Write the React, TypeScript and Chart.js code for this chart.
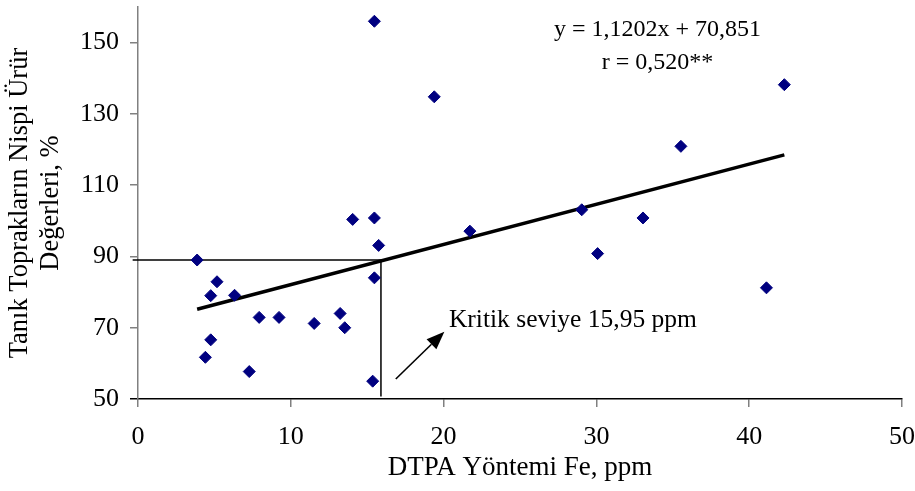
import React, { useEffect, useRef } from 'react';
import { Chart, registerables } from 'chart.js';

Chart.register(...registerables);

// ---- data ----
const feValues = [15.47, 19.39, 14.05, 15.47, 15.75, 42.3, 35.53, 29.04, 33.05, 21.72, 30.08, 41.13, 3.87, 15.47, 5.17, 4.76, 6.32, 7.93, 9.23, 11.53, 13.23, 13.53, 4.76, 4.41, 7.28, 15.36];
const yieldValues = [156.0, 134.8, 100.4, 100.8, 93.1, 138.2, 120.9, 103.1, 100.8, 97.1, 90.8, 81.2, 89.0, 84.0, 82.9, 79.0, 79.1, 72.9, 72.9, 71.2, 74.0, 70.0, 66.6, 61.7, 57.7, 55.0];
const trendX = [3.87, 42.3];
const trendY = [75.2, 118.5];
const criticalX = [-0.35, 15.9, 15.9];
const criticalY = [89, 89, 50.7];
const xTicks = [0, 10, 20, 30, 40, 50];
const yTicks = [50, 70, 90, 110, 130, 150];
const equationLines = ['y = 1,1202x + 70,851', 'r = 0,520**'];
const criticalLabel = 'Kritik seviye 15,95 ppm';
const xTitle = 'DTPA Yöntemi Fe, ppm';
const yTitle = ['Tanık Toprakların Nispi Ürür', 'Değerleri, %'];

// annotation anchors (data coordinates)
const equationAnchor = { x: 34.0, y: [151.9, 142.6] };
const labelAnchor = { x: 20.35, y: 70.3 };
const arrowFrom = { x: 16.87, y: 55.6 };
const arrowTo = { x: 20.05, y: 68.9 };

const FONT = '"Liberation Serif", "Times New Roman", serif';

const annotationPlugin = {
  id: 'annotations',
  afterDatasetsDraw(chart: any) {
    const { ctx, scales } = chart;
    const xs = scales.x;
    const ys = scales.y;
    ctx.save();
    ctx.fillStyle = '#000';
    ctx.strokeStyle = '#000';
    ctx.font = `24px ${FONT}`;
    ctx.textBaseline = 'alphabetic';
    ctx.textAlign = 'center';
    equationLines.forEach((t, i) => {
      ctx.fillText(t, xs.getPixelForValue(equationAnchor.x), ys.getPixelForValue(equationAnchor.y[i]));
    });
    ctx.font = `25.5px ${FONT}`;
    ctx.textAlign = 'left';
    ctx.fillText(criticalLabel, xs.getPixelForValue(labelAnchor.x), ys.getPixelForValue(labelAnchor.y));

    // arrow
    const x1 = xs.getPixelForValue(arrowFrom.x);
    const y1 = ys.getPixelForValue(arrowFrom.y);
    const x2 = xs.getPixelForValue(arrowTo.x);
    const y2 = ys.getPixelForValue(arrowTo.y);
    const ang = Math.atan2(y2 - y1, x2 - x1);
    const headLen = 18;
    const headW = 7;
    const bx = x2 - headLen * Math.cos(ang);
    const by = y2 - headLen * Math.sin(ang);
    ctx.lineWidth = 1.6;
    ctx.beginPath();
    ctx.moveTo(x1, y1);
    ctx.lineTo(bx, by);
    ctx.stroke();
    ctx.beginPath();
    ctx.moveTo(x2, y2);
    ctx.lineTo(bx + headW * Math.sin(ang), by - headW * Math.cos(ang));
    ctx.lineTo(bx - headW * Math.sin(ang), by + headW * Math.cos(ang));
    ctx.closePath();
    ctx.fill();
    ctx.restore();
  },
};

export default function App() {
  const canvasRef = useRef<HTMLCanvasElement | null>(null);

  useEffect(() => {
    document.body.style.margin = '0';
    const canvas = canvasRef.current;
    if (!canvas) return;

    const chart = new Chart(canvas, {
      type: 'scatter',
      data: {
        datasets: [
          {
            label: 'Ölçüm',
            data: feValues.map((x, i) => ({ x, y: yieldValues[i] })),
            backgroundColor: '#000080',
            borderColor: '#000080',
            borderWidth: 1,
            pointStyle: 'rectRot',
            pointRadius: 6,
            pointHoverRadius: 6,
            order: 1,
          },
          {
            type: 'line',
            label: 'Trend',
            data: trendX.map((x, i) => ({ x, y: trendY[i] })),
            borderColor: '#000',
            borderWidth: 3.5,
            pointRadius: 0,
            fill: false,
            order: 2,
          },
          {
            type: 'line',
            label: 'Kritik',
            data: criticalX.map((x, i) => ({ x, y: criticalY[i] })),
            borderColor: '#000',
            borderWidth: 1.5,
            pointRadius: 0,
            fill: false,
            clip: false as any,
            order: 3,
          },
        ] as any,
      },
      options: {
        animation: false,
        responsive: true,
        maintainAspectRatio: false,
        events: [],
        layout: { padding: { top: 6, right: 13, left: 0, bottom: 0 } },
        plugins: {
          legend: { display: false },
          tooltip: { enabled: false },
        },
        scales: {
          x: {
            type: 'linear',
            min: 0,
            max: 50,
            afterBuildTicks: (scale: any) => {
              scale.ticks = xTicks.map((v) => ({ value: v }));
            },
            afterFit: (scale: any) => {
              scale.height = 92;
              scale.paddingLeft = 0;
              scale.paddingRight = 0;
            },
            ticks: {
              color: '#000',
              font: { family: FONT, size: 26 },
              padding: 15,
              maxRotation: 0,
            },
            grid: {
              display: true,
              drawOnChartArea: false,
              drawTicks: true,
              tickLength: 8,
              color: '#808080',
              lineWidth: 1.5,
            },
            border: { display: true, color: '#000', width: 1.5 },
            title: {
              display: true,
              text: xTitle,
              color: '#000',
              font: { family: FONT, size: 27 },
              padding: { top: 0, bottom: 7 },
            },
          },
          y: {
            type: 'linear',
            min: 50,
            max: 160,
            afterBuildTicks: (scale: any) => {
              scale.ticks = yTicks.map((v) => ({ value: v }));
            },
            afterFit: (scale: any) => {
              scale.width = 138;
              scale.paddingTop = 0;
              scale.paddingBottom = 0;
            },
            ticks: {
              color: '#000',
              font: { family: FONT, size: 26 },
              padding: 11,
            },
            grid: {
              display: true,
              drawOnChartArea: false,
              drawTicks: true,
              tickLength: 8,
              color: (c: any) => (c.tick && c.tick.value === 50 ? '#000' : '#808080'),
              lineWidth: 1.5,
            },
            border: { display: true, color: '#808080', width: 1.5 },
            title: {
              display: true,
              text: yTitle,
              color: '#000',
              font: { family: FONT, size: 26.5, lineHeight: 1.17 },
              padding: { top: 5, bottom: 0 },
            },
          },
        },
      },
      plugins: [annotationPlugin],
    });

    return () => {
      chart.destroy();
    };
  }, []);

  return (
    <div style={{ position: 'relative', width: '915px', height: '491px' }}>
      <canvas ref={canvasRef} />
    </div>
  );
}
